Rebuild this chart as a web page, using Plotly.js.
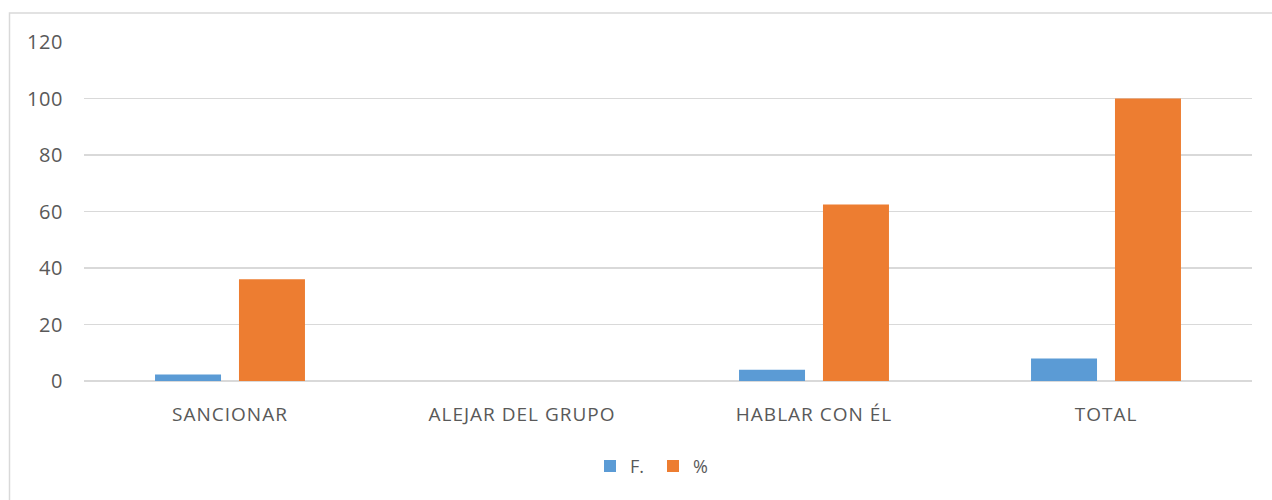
<!DOCTYPE html>
<html>
<head>
<meta charset="utf-8">
<script src="https://cdn.plot.ly/plotly-3.0.1.min.js"></script>
<style>
html,body{margin:0;padding:0;background:#fff;}
#chart{width:1272px;height:500px;}
#chart .xtick text{letter-spacing:1px;}
#chart .ytick text{letter-spacing:0.6px;}
</style>
</head>
<body>
<div id="chart"></div>
<script>
var categories = ["SANCIONAR", "ALEJAR DEL GRUPO", "HABLAR CON ÉL", "TOTAL"];
var freq = [2.3, 0, 4, 8];
var pct = [36, 0, 62.5, 100];
var yTicks = [0, 20, 40, 60, 80, 100, 120];

var font = "'Open Sans', Lato, sans-serif";
var traces = [
  {type: "bar", name: "F.", x: categories, y: freq, marker: {color: "#5b9bd5"}},
  {type: "bar", name: "%", x: categories, y: pct, marker: {color: "#ed7d31"}}
];

var L = 84, R = 1252, T = 41.5, B = 381.5;
var pw = R - L, ph = B - T;
function px(x){ return (x - L) / pw; }
function py(y){ return (B - y) / ph; }

var layout = {
  width: 1272, height: 500,
  margin: {l: L, r: 1272 - R, t: T, b: 500 - B},
  paper_bgcolor: "#fff", plot_bgcolor: "#fff",
  font: {family: font, color: "#595959", size: 18},
  barmode: "group",
  bargap: 0.425,
  bargroupgap: 0.214,
  showlegend: true,
  legend: {orientation: "h", x: px(590), xanchor: "left", y: py(467), yanchor: "middle",
           font: {size: 18, color: "#595959"}, itemwidth: 30, entrywidth: 18, traceorder: "normal"},
  xaxis: {type: "category", showgrid: false, zeroline: false, showline: false,
          ticks: "", tickfont: {size: 19, color: "#595959"}, ticklabelstandoff: 20},
  yaxis: {range: [0, 120], tickvals: yTicks, ticktext: yTicks.map(String),
          showgrid: true, gridcolor: "#d9d9d9", gridwidth: 1.5,
          zeroline: true, zerolinecolor: "#d9d9d9", zerolinewidth: 1.5,
          showline: false, ticks: "", tickfont: {size: 20, color: "#595959"},
          ticklabelstandoff: 20},
  shapes: [{type: "rect", xref: "paper", yref: "paper",
            x0: px(9.5), x1: px(1290), y0: py(520), y1: py(12.5),
            line: {color: "#d9d9d9", width: 1.5}, fillcolor: "rgba(0,0,0,0)", layer: "below"}]
};

Plotly.newPlot("chart", traces, layout, {displayModeBar: false, staticPlot: true});
</script>
</body>
</html>
